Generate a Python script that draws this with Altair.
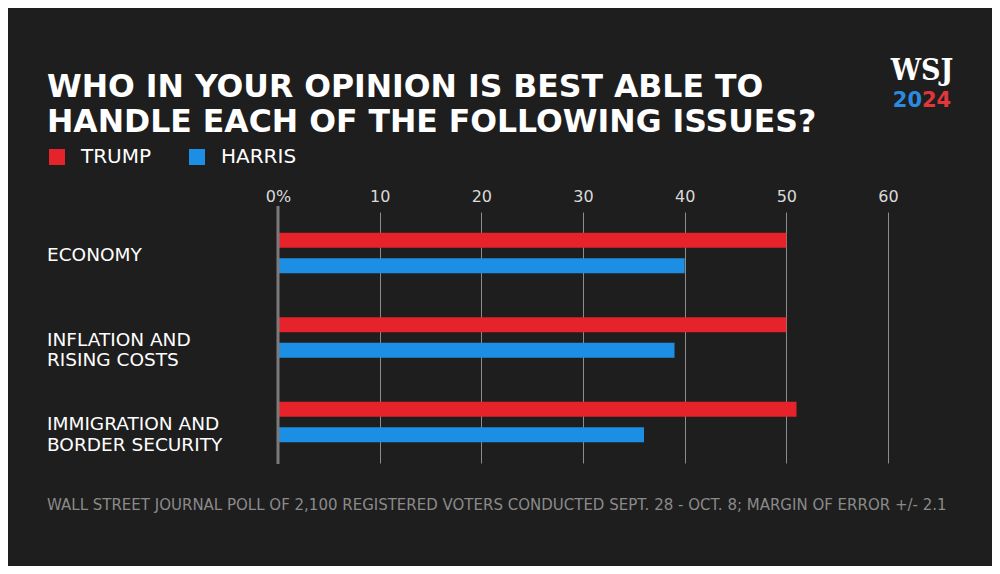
import altair as alt
import pandas as pd

categories = ["ECONOMY", "INFLATION AND\nRISING COSTS", "IMMIGRATION AND\nBORDER SECURITY"]
candidates = ["TRUMP", "HARRIS"]
trump = [50, 50, 51]
harris = [40, 39, 36]
x_ticks = [0, 10, 20, 30, 40, 50, 60]

title_text = "WHO IN YOUR OPINION IS BEST ABLE TO\nHANDLE EACH OF THE FOLLOWING ISSUES?"
footer_text = "WALL STREET JOURNAL POLL OF 2,100 REGISTERED VOTERS CONDUCTED SEPT. 28 - OCT. 8; MARGIN OF ERROR +/- 2.1"

rows = []
for c, t, h in zip(categories, trump, harris):
    rows.append({"category": c, "candidate": "TRUMP", "value": t})
    rows.append({"category": c, "candidate": "HARRIS", "value": h})
df = pd.DataFrame(rows)
cat_df = pd.DataFrame({"category": categories})
one = pd.DataFrame({"a": [0]})

RED = "#e6222b"
BLUE = "#1c8fe4"
BG = "#1e1e1e"
SANS = "DejaVu Sans"

W, H = 610, 251
PL, PT = 270, 204
TOTAL_W, TOTAL_H = 984, 558

yenc = alt.Y("category:N", sort=categories,
             scale=alt.Scale(paddingInner=0.52, paddingOuter=0.245), axis=None)
xenc = alt.X("value:Q", scale=alt.Scale(domain=[0, 60], nice=False),
             axis=alt.Axis(orient="top", values=x_ticks,
                           labelExpr="datum.value == 0 ? '0%' : datum.label",
                           grid=True, gridColor="#8c8c8c", gridWidth=1,
                           domain=False, ticks=False, labelPadding=11,
                           labelBaseline="alphabetic", labelFlush=False,
                           labelFontSize=16, labelColor="#dadada", labelFont=SANS,
                           title=None))

bars = alt.Chart(df).mark_bar().encode(
    x=xenc,
    y=yenc,
    yOffset=alt.YOffset("candidate:N", sort=candidates,
                        scale=alt.Scale(paddingInner=0.41, paddingOuter=0)),
    color=alt.Color("candidate:N",
                    scale=alt.Scale(domain=candidates, range=[RED, BLUE]),
                    legend=alt.Legend(orient="none", legendX=-231, legendY=-65,
                                      direction="horizontal", title=None,
                                      symbolType="square", symbolSize=256,
                                      symbolStrokeWidth=0, symbolOpacity=1,
                                      labelFontSize=20, labelColor="white",
                                      labelFont=SANS, labelOffset=14,
                                      columnPadding=35)),
)

zero = alt.Chart(pd.DataFrame({"value": [0]})).mark_rule(
    color="#7a7a7a", strokeWidth=3).encode(
    x="value:Q", y=alt.value(-6), y2=alt.value(H + 1))

labels = alt.Chart(cat_df).mark_text(
    align="left", baseline="alphabetic", dy=8, lineBreak="\n", lineHeight=20.5,
    fontSize=18.5, font=SANS, color="white").encode(
    y=yenc, x=alt.value(-231), text="category:N")

title = alt.Chart(one).mark_text(
    align="left", baseline="alphabetic", lineBreak="\n", lineHeight=34.5,
    fontSize=31.5, font=SANS, fontWeight="bold", color="white").encode(
    x=alt.value(-231), y=alt.value(-115), text=alt.value(title_text))

footer = alt.Chart(one).mark_text(
    align="left", baseline="alphabetic", fontSize=15, font=SANS,
    color="#8a8a8a").encode(
    x=alt.value(-231), y=alt.value(298), text=alt.value(footer_text))

wsj = alt.Chart(one).mark_text(
    align="center", baseline="alphabetic", fontSize=30, font="DejaVu Serif Condensed",
    fontWeight="bold", color="white").encode(
    x=alt.value(644), y=alt.value(-132), text=alt.value("WSJ"))
y20 = alt.Chart(one).mark_text(
    align="right", baseline="alphabetic", fontSize=21, font=SANS,
    fontWeight="bold", color="#2a8be0").encode(
    x=alt.value(644), y=alt.value(-105), text=alt.value("20"))
y24 = alt.Chart(one).mark_text(
    align="left", baseline="alphabetic", fontSize=21, font=SANS,
    fontWeight="bold", color="#e0363c").encode(
    x=alt.value(644), y=alt.value(-105), text=alt.value("24"))

chart = alt.layer(bars, zero, labels, title, footer, wsj, y20, y24).properties(
    width=W, height=H,
    padding={"left": PL, "top": PT, "right": TOTAL_W - PL - W, "bottom": TOTAL_H - PT - H},
    autosize=alt.AutoSizeParams(type="none"),
    background=BG,
).configure_view(stroke=None)

chart.save("out.html", embed_options={"renderer": "svg", "actions": False})
